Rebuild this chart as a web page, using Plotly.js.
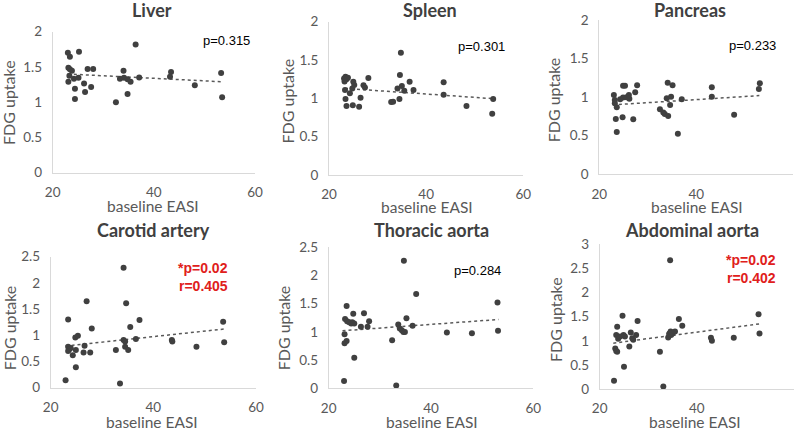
<!DOCTYPE html>
<html>
<head>
<meta charset="utf-8">
<script src="https://cdn.plot.ly/plotly-3.0.1.min.js"></script>
<style>
  html, body { margin: 0; padding: 0; background: #fff; }
  #chart { width: 800px; height: 431px; }
</style>
</head>
<body>
<div id="chart"></div>
<script>
// FDG uptake vs baseline EASI, one scatter panel per tissue

const liverX = [23.0, 23.4, 25.2, 36.4, 23.1, 23.4, 23.8, 23.3, 24.2, 25.1, 23.1, 26.9, 28.0, 26.2, 27.6, 24.4, 26.4, 24.4, 32.5, 34.0, 33.3, 34.1, 34.8, 35.4, 34.8, 37.1, 43.4, 43.2, 48.1, 53.3, 53.5];
const liverY = [1.70, 1.645, 1.716, 1.82, 1.49, 1.466, 1.447, 1.376, 1.333, 1.348, 1.29, 1.47, 1.47, 1.267, 1.215, 1.19, 1.144, 1.045, 0.998, 1.447, 1.333, 1.348, 1.324, 1.29, 1.116, 1.352, 1.428, 1.362, 1.239, 1.414, 1.069];
const liverTrendX = [23.0, 53.5];
const liverTrendY = [1.40, 1.29];

const spleenX = [34.8, 34.6, 23.4, 23.1, 23.2, 23.6, 23.9, 28.1, 25.0, 36.6, 43.6, 25.2, 27.1, 27.4, 35.0, 34.1, 24.8, 23.3, 37.4, 35.5, 24.3, 43.6, 26.5, 23.4, 53.8, 34.5, 32.8, 33.2, 23.6, 24.9, 26.2, 48.3, 53.6];
const spleenY = [1.596, 1.304, 1.283, 1.26, 1.22, 1.25, 1.27, 1.265, 1.217, 1.217, 1.209, 1.174, 1.17, 1.143, 1.16, 1.13, 1.13, 1.11, 1.11, 1.10, 1.065, 1.048, 1.009, 0.991, 0.991, 0.991, 0.952, 0.957, 0.90, 0.909, 0.891, 0.90, 0.80];
const spleenTrendX = [23.3, 53.8];
const spleenTrendY = [1.13, 0.996];

const pancreasX = [23.0, 23.2, 23.2, 23.6, 23.4, 23.6, 24.3, 24.9, 25.3, 24.9, 25.6, 26.1, 26.2, 24.8, 27.0, 27.4, 27.8, 32.5, 33.2, 33.5, 34.2, 33.9, 34.1, 35.1, 34.6, 34.8, 36.2, 37.0, 43.2, 43.2, 47.8, 53.1, 52.9];
const pancreasY = [1.028, 0.963, 0.92, 0.868, 0.717, 0.549, 0.972, 1.149, 1.149, 0.994, 0.998, 1.028, 0.98, 0.739, 0.713, 1.063, 1.153, 0.842, 0.80, 0.782, 0.756, 0.985, 1.188, 1.153, 0.898, 1.006, 0.527, 0.972, 1.127, 1.006, 0.773, 1.179, 1.106];
const pancreasTrendX = [22.8, 53.0];
const pancreasTrendY = [0.90, 1.02];

const carotidX = [22.9, 23.4, 23.4, 23.6, 23.9, 23.4, 24.3, 24.9, 24.8, 25.3, 24.9, 26.4, 26.6, 27.0, 27.7, 28.0, 32.7, 33.5, 34.2, 34.2, 34.5, 34.7, 34.5, 35.1, 35.5, 36.6, 37.3, 43.6, 43.7, 48.4, 53.6, 53.8];
const carotidY = [0.14, 1.30, 0.78, 0.73, 0.76, 0.70, 0.62, 0.72, 0.96, 0.99, 0.39, 0.67, 0.80, 1.65, 0.67, 1.13, 0.72, 0.08, 2.29, 0.91, 0.88, 1.61, 0.78, 0.72, 1.16, 0.93, 1.29, 0.91, 0.88, 0.78, 1.26, 0.865];
const carotidTrendX = [22.9, 53.8];
const carotidTrendY = [0.795, 1.12];

const thoracicX = [23.0, 23.5, 23.2, 23.1, 23.1, 23.5, 23.6, 24.0, 24.4, 24.8, 24.6, 25.0, 25.0, 26.3, 26.9, 27.6, 27.9, 32.4, 33.2, 34.7, 33.6, 33.9, 34.3, 34.6, 35.2, 34.9, 37.1, 36.4, 43.1, 48.0, 53.0, 53.1];
const thoracicY = [0.13, 1.46, 1.23, 0.96, 0.80, 0.84, 1.19, 1.17, 1.15, 1.32, 1.17, 1.15, 0.54, 1.09, 1.33, 1.09, 1.19, 0.85, 0.05, 2.26, 1.13, 1.06, 1.03, 1.00, 1.24, 1.00, 1.67, 1.11, 0.99, 0.975, 1.52, 1.02];
const thoracicTrendX = [22.7, 53.2];
const thoracicTrendY = [1.02, 1.22];

const abdominalX = [22.95, 23.6, 23.2, 23.4, 23.6, 23.4, 23.8, 24.2, 24.7, 24.9, 25.2, 25.0, 26.1, 26.4, 26.7, 26.9, 27.5, 27.8, 32.4, 33.1, 34.5, 34.1, 34.4, 34.7, 34.3, 34.6, 35.0, 35.5, 36.3, 37.0, 42.9, 43.1, 47.6, 52.7, 52.9];
const abdominalY = [0.17, 1.29, 0.84, 0.79, 0.77, 1.12, 1.04, 1.09, 1.52, 1.12, 1.09, 0.46, 0.88, 1.17, 1.05, 1.02, 1.12, 1.41, 0.77, 0.05, 2.67, 1.07, 1.15, 1.12, 1.14, 1.19, 1.15, 1.19, 1.45, 1.31, 1.06, 1.00, 1.06, 1.55, 1.15];
const abdominalTrendX = [22.8, 52.9];
const abdominalTrendY = [0.95, 1.35];

const panelTitles = ["Liver", "Spleen", "Pancreas", "Carotid artery", "Thoracic aorta", "Abdominal aorta"];
const statLines = [["p=0.315"], ["p=0.301"], ["p=0.233"], ["*p=0.02", "r=0.405"], ["p=0.284"], ["*p=0.02", "r=0.402"]];
const significant = [false, false, false, true, false, true];
const yMax = [2, 2, 2, 2.5, 2.5, 3];
const xTicks = [20, 40, 60];
const xTitle = "baseline EASI";
const yTitle = "FDG uptake";

const seriesX = [liverX, spleenX, pancreasX, carotidX, thoracicX, abdominalX];
const seriesY = [liverY, spleenY, pancreasY, carotidY, thoracicY, abdominalY];
const trendX = [liverTrendX, spleenTrendX, pancreasTrendX, carotidTrendX, thoracicTrendX, abdominalTrendX];
const trendY = [liverTrendY, spleenTrendY, pancreasTrendY, carotidTrendY, thoracicTrendY, abdominalTrendY];

// page geometry (pixels): plot box per panel and text anchors
const W = 800, H = 431;
const boxes = [
  {x0: 52.7, x1: 255.0, yb: 172.7, yt: 31.7},
  {x0: 329.0, x1: 523.3, yb: 175.0, yt: 21.7},
  {x0: 599.3, x1: 793.3, yb: 174.3, yt: 20.0},
  {x0: 50.7, x1: 256.0, yb: 387.7, yt: 256.7},
  {x0: 328.7, x1: 533.3, yb: 388.3, yt: 247.3},
  {x0: 599.7, x1: 794.0, yb: 389.0, yt: 244.3}
];
const titlePos = [[151.7, 10], [430, 9.5], [690, 9.5], [153.3, 230], [431.7, 230], [691.7, 230]];
const statPos = [[252, 40], [507, 46.7], [778, 45], [230, 268.3], [503, 270], [778, 260]];
const yTitlePos = [[8, 103], [287, 101.5], [553.3, 100], [9.3, 328], [283.3, 328], [555, 320]];
const xTitlePos = [[153.3, 206], [426.7, 207], [696.7, 207], [151.7, 421.5], [431.7, 421.5], [695, 421.5]];

const px = v => v / W;
const py = v => 1 - v / H;

const FONT = "Lato, 'Open Sans', sans-serif";
const ARIAL = "'Liberation Sans', Arial, sans-serif";
const POINT = "#404040";
const AXIS = "#d9d9d9";
const TICK = "#595959";

const data = [];
const layout = {
  width: W, height: H,
  margin: {l: 0, r: 0, t: 0, b: 0},
  paper_bgcolor: "#ffffff",
  plot_bgcolor: "rgba(0,0,0,0)",
  showlegend: false,
  annotations: []
};

for (let i = 0; i < 6; i++) {
  const n = i === 0 ? "" : String(i + 1);
  const xa = "x" + n, ya = "y" + n;
  const b = boxes[i];

  data.push({
    type: "scatter", mode: "lines",
    x: trendX[i], y: trendY[i], xaxis: xa, yaxis: ya,
    line: {color: "#595959", width: 1.5, dash: "dot"},
    hoverinfo: "skip"
  });
  data.push({
    type: "scatter", mode: "markers",
    x: seriesX[i], y: seriesY[i], xaxis: xa, yaxis: ya,
    marker: {color: POINT, size: 6},
    cliponaxis: false
  });

  layout["xaxis" + n] = {
    domain: [px(b.x0), px(b.x1)],
    anchor: ya,
    range: [20, 60],
    tickvals: xTicks,
    showgrid: false, zeroline: false,
    showline: true, linecolor: AXIS, linewidth: 1,
    ticks: "outside", ticklen: 7, tickcolor: "rgba(0,0,0,0)",
    tickfont: {family: FONT, size: 13.5, color: TICK},
    fixedrange: true
  };
  layout["yaxis" + n] = {
    domain: [py(b.yb), py(b.yt)],
    anchor: xa,
    range: [0, yMax[i]],
    dtick: 0.5,
    showgrid: false, zeroline: false,
    showline: true, linecolor: AXIS, linewidth: 1,
    ticks: "outside", ticklen: 7, tickcolor: "rgba(0,0,0,0)",
    tickfont: {family: FONT, size: 13.5, color: TICK},
    fixedrange: true
  };

  layout.annotations.push({
    xref: "paper", yref: "paper",
    x: px(titlePos[i][0]), y: py(titlePos[i][1]),
    xanchor: "center", yanchor: "middle",
    text: "<b>" + panelTitles[i] + "</b>",
    showarrow: false,
    font: {family: FONT, size: 18, color: "#404040"}
  });
  layout.annotations.push({
    xref: "paper", yref: "paper",
    x: px(yTitlePos[i][0]), y: py(yTitlePos[i][1]),
    xanchor: "center", yanchor: "middle",
    text: yTitle, textangle: -90,
    showarrow: false,
    font: {family: FONT, size: 16, color: TICK}
  });
  layout.annotations.push({
    xref: "paper", yref: "paper",
    x: px(xTitlePos[i][0]), y: py(xTitlePos[i][1]),
    xanchor: "center", yanchor: "middle",
    text: xTitle,
    showarrow: false,
    font: {family: FONT, size: 15.5, color: TICK}
  });

  const lines = statLines[i];
  lines.forEach((t, k) => {
    layout.annotations.push({
      xref: "paper", yref: "paper",
      x: px(statPos[i][0]), y: py(statPos[i][1] + k * 17.5),
      xanchor: "right", yanchor: "middle",
      text: significant[i] ? "<b>" + t + "</b>" : t,
      showarrow: false,
      font: {family: ARIAL, size: significant[i] ? 14 : 13,
             color: significant[i] ? "#e0201b" : "#000000"}
    });
  });
}

Plotly.newPlot("chart", data, layout, {staticPlot: true, displayModeBar: false});
</script>
</body>
</html>
